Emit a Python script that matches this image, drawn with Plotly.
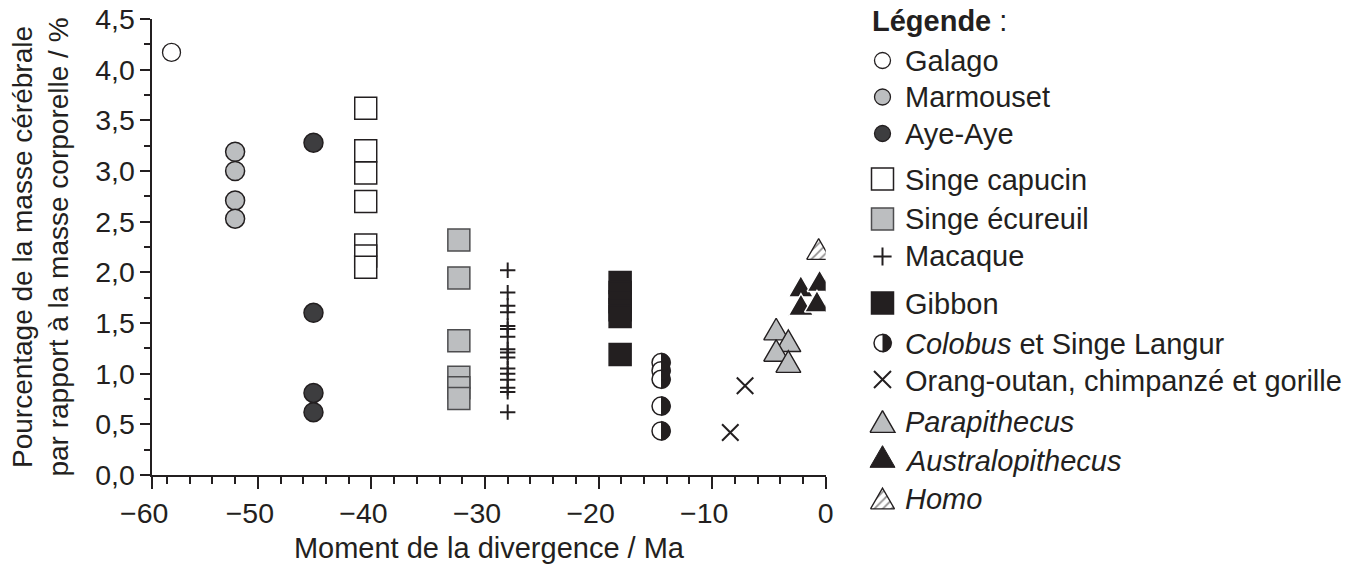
import numpy as np
import plotly.graph_objects as go

# ---------------- data ----------------
galago_x = [-57.6]
galago_y = [4.17]

marmouset_x = [-52.0, -52.0, -52.0, -52.0]
marmouset_y = [3.19, 3.00, 2.71, 2.53]

ayeaye_x = [-45.1, -45.1, -45.1, -45.1]
ayeaye_y = [3.28, 1.60, 0.81, 0.62]

capucin_x = [-40.5] * 7
capucin_y = [3.62, 3.20, 2.98, 2.70, 2.27, 2.16, 2.05]

ecureuil_x = [-32.3] * 6
ecureuil_y = [2.32, 1.945, 1.325, 0.965, 0.86, 0.755]

macaque_x = [-28.0] * 16
macaque_y = [2.02, 1.80, 1.67, 1.605, 1.47, 1.44, 1.365, 1.24, 1.21, 1.16,
             1.05, 1.00, 0.94, 0.86, 0.82, 0.62]

gibbon_x = [-18.1] * 6
gibbon_y = [1.90, 1.80, 1.71, 1.63, 1.565, 1.19]

colobus_x = [-14.5] * 5
colobus_y = [1.11, 1.03, 0.945, 0.68, 0.435]

grands_singes_x = [-7.1, -8.4]
grands_singes_y = [0.88, 0.42]

parapithecus_x = [-4.36, -3.29, -4.36, -3.29]
parapithecus_y = [1.44, 1.325, 1.23, 1.12]

australo_x = [-2.19, -0.54, -2.18, -0.77]
australo_y = [1.863, 1.918, 1.682, 1.715]

homo_x = [-0.62]
homo_y = [2.23]

FS = "\u2007"  # figure space: keeps the digits centred on the tick, minus hanging left
x_tick_vals = [-59.3, -50, -40, -30, -20, -10, 0]
x_tick_text = ["\u221260" + FS, "\u221250" + FS, "\u221240" + FS, "\u221230" + FS,
               "\u221220" + FS, "\u221210" + FS, "0"]
y_tick_vals = [0, 0.5, 1.0, 1.5, 2.0, 2.5, 3.0, 3.5, 4.0, 4.5]

legend_labels = ["Galago", "Marmouset", "Aye-Aye", "Singe capucin", "Singe écureuil",
                 "Macaque", "Gibbon", "<i>Colobus</i> et Singe Langur",
                 "Orang-outan, chimpanzé et gorille", "<i>Parapithecus</i>",
                 "<i>Australopithecus</i>", "<i>Homo</i>"]

# ---------------- layout constants ----------------
W, H = 1364, 565
PX_LEFT, PX_RIGHT = 152.2, 825.7
PX_BOTTOM, PX_TOP = 475.0, 19.0
X_RANGE = [-59.3, 0.0]
Y_RANGE = [0.0, 4.5]
SX = (PX_RIGHT - PX_LEFT) / (X_RANGE[1] - X_RANGE[0])
SY = (PX_BOTTOM - PX_TOP) / (Y_RANGE[1] - Y_RANGE[0])

INK = "#231f20"
GRAY = "#bcbec0"
DARK = "#3d3d3f"
FONT = "Liberation Sans, Arial, Helvetica, sans-serif"

fig = go.Figure()


def markers(x, y, symbol, size, fill, lc=INK, lw=1.5, xa="x", ya="y"):
    return go.Scatter(x=x, y=y, mode="markers", xaxis=xa, yaxis=ya,
                      showlegend=False, hoverinfo="skip",
                      marker=dict(symbol=symbol, size=size, color=fill,
                                  line=dict(color=lc, width=lw)))


def tri_data(x, y, side=24.0):
    h = side * np.sqrt(3) / 2
    dx, dy = side / 2 / SX, h / 2 / SY
    return [x - dx, x + dx, x, x - dx], [y - dy, y - dy, y + dy, y - dy]


def tri_px(x, y, side=25.0):
    h = side * np.sqrt(3) / 2
    return [x - side / 2, x + side / 2, x, x - side / 2], [y + h / 2, y + h / 2, y - h / 2, y + h / 2]


def half_disc(xs, ys, r, sx=SX, sy=SY):
    t = np.linspace(-np.pi / 2, np.pi / 2, 31)
    px, py = [], []
    for x, y in zip(xs, ys):
        px += list(x + r * np.cos(t) / sx) + [None]
        py += list(y + r * np.sin(t) / sy) + [None]
    return px, py


def poly_trace(px, py, fill, lc, lw, xa="x", ya="y", pattern=None):
    kw = dict(x=px, y=py, mode="lines", fill="toself", fillcolor=fill,
              line=dict(color=lc, width=lw), xaxis=xa, yaxis=ya,
              showlegend=False, hoverinfo="skip")
    if pattern:
        kw["fillpattern"] = pattern
    return go.Scatter(**kw)


HATCH = dict(shape="/", fgcolor=INK, bgcolor="white", size=6, solidity=0.3)

# ---------------- data marks ----------------
fig.add_trace(markers(galago_x, galago_y, "circle", 18, "white", lw=1.3))
fig.add_trace(markers(marmouset_x, marmouset_y, "circle", 19, GRAY))
fig.add_trace(markers(ayeaye_x, ayeaye_y, "circle", 19, DARK))
fig.add_trace(markers(capucin_x, capucin_y, "square", 22, "white"))
fig.add_trace(markers(ecureuil_x, ecureuil_y, "square", 22, GRAY, lc="#4d4d4f"))
fig.add_trace(go.Scatter(x=macaque_x, y=macaque_y, mode="markers", showlegend=False,
                         hoverinfo="skip",
                         marker=dict(symbol="cross-thin", size=11, color=INK,
                                     line=dict(color=INK, width=2))))
fig.add_trace(markers(gibbon_x, gibbon_y, "square", 22, INK, lw=1.5))
# Colobus: white circle, right half black
fig.add_trace(markers(colobus_x, colobus_y, "circle", 18, "white", lw=1.5))
hx, hy = half_disc(colobus_x, colobus_y, 9.6)
fig.add_trace(poly_trace(hx, hy, INK, INK, 0.5))
fig.add_trace(go.Scatter(x=grands_singes_x, y=grands_singes_y, mode="markers",
                         showlegend=False, hoverinfo="skip",
                         marker=dict(symbol="x-thin", size=16.5, color=INK,
                                     line=dict(color=INK, width=2))))
for x, y in zip(parapithecus_x, parapithecus_y):
    tx, ty = tri_data(x, y, 25)
    fig.add_trace(poly_trace(tx, ty, GRAY, INK, 1.4))
for x, y in zip(australo_x, australo_y):
    tx, ty = tri_data(x, y, 25)
    fig.add_trace(poly_trace(tx, ty, INK, "white", 1.4))
for x, y in zip(homo_x, homo_y):
    tx, ty = tri_data(x, y, 24)
    fig.add_trace(poly_trace(tx, ty, "white", INK, 1.3, pattern=HATCH))

# ---------------- legend (drawn in pixel space on x2/y2) ----------------
LX_SYM = 882.5
LX_TXT = 903
row_text_y = [60.5, 97, 134, 180, 219, 255.5, 303.5, 343.5, 381, 422, 461, 499]
row_sym_y = [60.5, 97, 133.5, 179, 219, 256.5, 303, 343, 379.5, 421.5, 456.5, 498.5]

fig.add_trace(markers([LX_SYM], [row_sym_y[0]], "circle", 16, "white", lw=1.3, xa="x2", ya="y2"))
fig.add_trace(markers([LX_SYM], [row_sym_y[1]], "circle", 16, GRAY, lw=1.3, xa="x2", ya="y2"))
fig.add_trace(markers([LX_SYM], [row_sym_y[2]], "circle", 16, DARK, lw=1.3, xa="x2", ya="y2"))
fig.add_trace(markers([LX_SYM], [row_sym_y[3]], "square", 22, "white", xa="x2", ya="y2"))
fig.add_trace(markers([LX_SYM], [row_sym_y[4]], "square", 22, GRAY, lc="#4d4d4f", xa="x2", ya="y2"))
fig.add_trace(go.Scatter(x=[LX_SYM], y=[row_sym_y[5]], mode="markers", xaxis="x2", yaxis="y2",
                         showlegend=False, hoverinfo="skip",
                         marker=dict(symbol="cross-thin", size=13, color=INK,
                                     line=dict(color=INK, width=2))))
fig.add_trace(markers([LX_SYM], [row_sym_y[6]], "square", 22, INK, xa="x2", ya="y2"))
fig.add_trace(markers([LX_SYM], [row_sym_y[7]], "circle", 17, "white", lw=1.5, xa="x2", ya="y2"))
lhx, lhy = half_disc([LX_SYM], [row_sym_y[7]], 9.2, sx=1.0, sy=1.0)
fig.add_trace(poly_trace(lhx, lhy, INK, INK, 0.5, xa="x2", ya="y2"))
fig.add_trace(go.Scatter(x=[LX_SYM], y=[row_sym_y[8]], mode="markers", xaxis="x2", yaxis="y2",
                         showlegend=False, hoverinfo="skip",
                         marker=dict(symbol="x-thin", size=17, color=INK,
                                     line=dict(color=INK, width=2))))
tx, ty = tri_px(LX_SYM, row_sym_y[9], 25)
fig.add_trace(poly_trace(tx, ty, GRAY, INK, 1.4, xa="x2", ya="y2"))
tx, ty = tri_px(LX_SYM, row_sym_y[10], 25)
fig.add_trace(poly_trace(tx, ty, INK, INK, 1.0, xa="x2", ya="y2"))
tx, ty = tri_px(LX_SYM, row_sym_y[11], 24)
fig.add_trace(poly_trace(tx, ty, "white", INK, 1.3, xa="x2", ya="y2", pattern=HATCH))

LEG_FONT = dict(family=FONT, size=29, color=INK)
annotations = [dict(x=869.5, y=21, xref="x2", yref="y2", xanchor="left", yanchor="middle",
                    text="<b>Légende</b> :", showarrow=False, font=LEG_FONT)]
for lab, yy in zip(legend_labels, row_text_y):
    annotations.append(dict(x=LX_TXT, y=yy, xref="x2", yref="y2", xanchor="left",
                            yanchor="middle", text=lab, showarrow=False, font=LEG_FONT))

axis_common = dict(showline=True, linecolor=INK, linewidth=1.5, ticks="outside",
                   tickcolor=INK, tickwidth=1.5, showgrid=False, zeroline=False,
                   automargin=False, tickfont=dict(family=FONT, size=28.5, color=INK))

fig.update_layout(
    width=W, height=H,
    margin=dict(l=0, r=0, t=0, b=0),
    paper_bgcolor="white", plot_bgcolor="rgba(0,0,0,0)",
    separators=", ",
    showlegend=False,
    font=dict(family=FONT, size=28, color=INK),
    xaxis=dict(domain=[PX_LEFT / W, PX_RIGHT / W], range=X_RANGE,
               tickmode="array", tickvals=x_tick_vals, ticktext=x_tick_text,
               ticklen=12,
               minor=dict(tickmode="linear", tick0=0, dtick=2, ticks="outside",
                          ticklen=7, tickwidth=1.5, tickcolor=INK),
               title=dict(text="Moment de la divergence / Ma", standoff=10,
                          font=dict(family=FONT, size=29, color=INK)),
               **axis_common),
    yaxis=dict(domain=[(H - PX_BOTTOM) / H, (H - PX_TOP) / H], range=Y_RANGE,
               tickmode="array", tickvals=y_tick_vals, tickformat=".1f",
               ticklen=10,
               minor=dict(tickmode="linear", tick0=0, dtick=0.25, ticks="outside",
                          ticklen=6, tickwidth=1.5, tickcolor=INK),
               title=dict(text="Pourcentage de la masse cérébrale<br>par rapport à la masse corporelle / %",
                          standoff=18, font=dict(family=FONT, size=28, color=INK)),
               **axis_common),
    xaxis2=dict(domain=[0, 1], range=[0, W], visible=False, anchor="y2", fixedrange=True),
    yaxis2=dict(domain=[0, 1], range=[H, 0], visible=False, anchor="x2", fixedrange=True),
    annotations=annotations,
)

fig.write_html("out.html", config={"displayModeBar": False},
               post_script="document.body.style.margin='0';document.body.style.overflow='hidden';")
